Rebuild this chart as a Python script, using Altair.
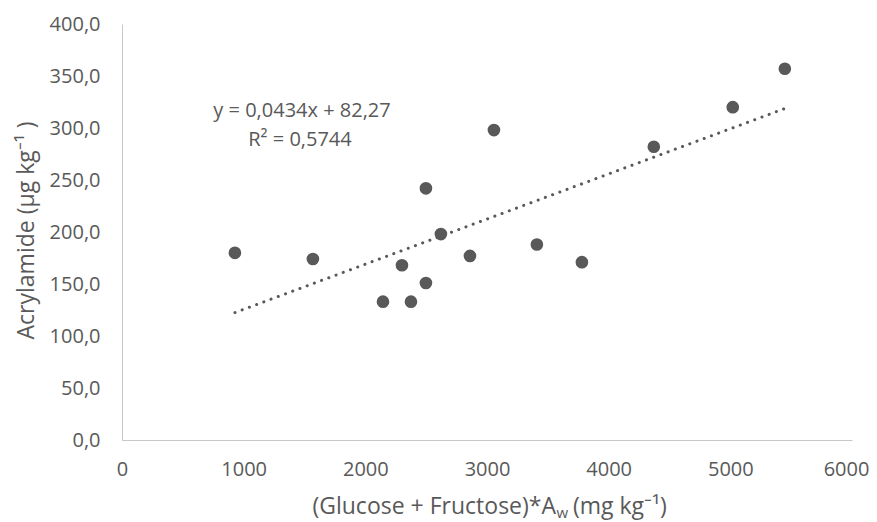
import altair as alt
import pandas as pd

# data
x_vals = [928, 1569, 2145, 2375, 2301, 2498, 2498, 2621, 2860, 3057, 3410, 3780, 4371, 5020, 5448]
y_vals = [180, 174, 133, 133, 168, 151, 242, 198, 177, 298, 188, 171, 282, 320, 357]
trend_x = [928, 5448]
trend_y = [122.5, 318.7]
equation = "y = 0,0434x + 82,27"
r_squared = "R² = 0,5744"
x_ticks = [0, 1000, 2000, 3000, 4000, 5000, 6000]
y_ticks = [0, 50, 100, 150, 200, 250, 300, 350, 400]

FONT = "Open Sans"
GREY = "#595959"
W, H = 730, 416

pts = pd.DataFrame({"x": x_vals, "y": y_vals})
trend = pd.DataFrame({"x": trend_x, "y": trend_y})

xs = alt.Scale(domain=[0, 6000], nice=False, zero=False)
ys = alt.Scale(domain=[0, 400], nice=False, zero=False)

x_axis = alt.Axis(values=x_ticks, format="d", grid=False, ticks=False, labelFlush=False,
                  labelOffset={"condition": {"test": "datum.value == 6000", "value": -6}, "value": 0},
                  domainColor="#c8c8c8", domainWidth=1,
                  labelFont=FONT, labelFontSize=20, labelColor=GREY, labelPadding=19,
                  title=None)
y_axis = alt.Axis(values=y_ticks, grid=False, ticks=False, labelFlush=False,
                  labelExpr="replace(format(datum.value, '.1f'), '.', ',')",
                  domainColor="#c8c8c8", domainWidth=1,
                  labelFont=FONT, labelFontSize=20, labelColor=GREY, labelPadding=22,
                  title="Acrylamide (µg kg⁻¹ )", titleFont=FONT, titleFontSize=23,
                  titleFontWeight="normal", titleColor=GREY,
                  titleX=-96, titleY=206, titleAngle=-90,
                  titleAlign="center", titleBaseline="middle")

points = alt.Chart(pts).mark_circle(size=160, color=GREY, opacity=1).encode(
    x=alt.X("x:Q", scale=xs, axis=x_axis),
    y=alt.Y("y:Q", scale=ys, axis=y_axis),
)

line = alt.Chart(trend).mark_line(color=GREY, strokeWidth=3, strokeDash=[0.1, 7.6],
                                  strokeCap="round").encode(
    x=alt.X("x:Q", scale=xs),
    y=alt.Y("y:Q", scale=ys),
)

eq_text = alt.Chart(pd.DataFrame({"t": [equation]})).mark_text(
    font=FONT, fontSize=20, color=GREY, align="center", baseline="middle"
).encode(text="t:N", x=alt.value(180), y=alt.value(87))
r2_text = alt.Chart(pd.DataFrame({"t": [r_squared]})).mark_text(
    font=FONT, fontSize=20, color=GREY, align="center", baseline="middle"
).encode(text="t:N", x=alt.value(178), y=alt.value(116))

# x-axis title with subscript w
XT_Y = 490
XA = 434
xt1 = alt.Chart(pd.DataFrame({"t": ["(Glucose + Fructose)*A"]})).mark_text(
    font=FONT, fontSize=23, color=GREY, align="right", baseline="alphabetic"
).encode(text="t:N", x=alt.value(XA), y=alt.value(XT_Y))
xt2 = alt.Chart(pd.DataFrame({"t": ["w"]})).mark_text(
    font=FONT, fontSize=15, color=GREY, align="left", baseline="alphabetic"
).encode(text="t:N", x=alt.value(XA + 0.5), y=alt.value(XT_Y + 4))
xt3 = alt.Chart(pd.DataFrame({"t": ["(mg kg⁻¹)"]})).mark_text(
    font=FONT, fontSize=23, color=GREY, align="left", baseline="alphabetic"
).encode(text="t:N", x=alt.value(XA + 17), y=alt.value(XT_Y))

chart = alt.layer(line, points, eq_text, r2_text, xt1, xt2, xt3).properties(
    width=W, height=H,
    autosize=alt.AutoSizeParams(type="none"),
    padding={"left": 114, "top": 16, "right": 17, "bottom": 82},
).configure_view(strokeWidth=0)

chart.save("out.html", embed_options={"renderer": "svg", "actions": False})
